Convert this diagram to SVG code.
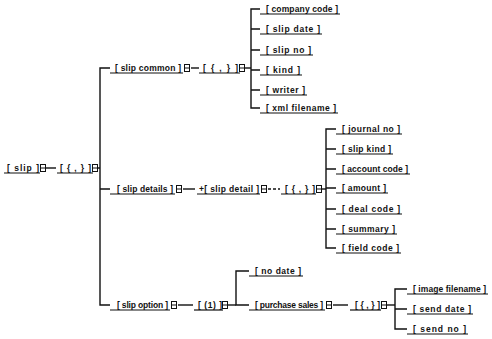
<svg xmlns="http://www.w3.org/2000/svg" width="492" height="339" viewBox="0 0 492 339">
<defs>
<style>
.t{font-family:"Liberation Sans",Arial,sans-serif;font-size:8.5px;font-weight:bold;fill:#111}
.u{stroke:#111;stroke-width:1.2;fill:none}
.c{stroke:#111;stroke-width:1.4;fill:none}
.d{stroke-dasharray:3 2}
</style>
<symbol id="bx" viewBox="0 0 6 8" width="6" height="8" overflow="visible">
<rect x="0.5" y="0.5" width="5" height="7" fill="#fff" stroke="#111" stroke-width="1"/>
<line x1="0.5" y1="4" x2="5.5" y2="4" stroke="#111" stroke-width="1"/>
</symbol>
</defs>
<rect width="492" height="339" fill="#fff"/>

<g id="connectors">
<line class="c" x1="46" y1="168" x2="56" y2="168"/>
<line class="c" x1="98" y1="168" x2="100" y2="168"/>
<path class="c" d="M110,68 H100 V305 H110 M100,189 H110"/>
<line class="c" x1="191" y1="68" x2="199" y2="68"/>
<line class="c" x1="245" y1="68" x2="251" y2="68"/>
<path class="c" d="M260,9 H251 V108 H260 M251,29 H260 M251,50 H260 M251,70 H260 M251,90 H260"/>
<line class="c" x1="183" y1="189" x2="195" y2="189"/>
<line class="c d" x1="268" y1="189" x2="280" y2="189"/>
<line class="c" x1="322" y1="189" x2="326" y2="189"/>
<path class="c" d="M336,129 H326 V248 H336 M326,149 H336 M326,169 H336 M326,188 H336 M326,209 H336 M326,229 H336"/>
<line class="c" x1="178" y1="305" x2="193" y2="305"/>
<line class="c" x1="228" y1="305" x2="236" y2="305"/>
<path class="c" d="M249,271 H236 V305 H249"/>
<line class="c" x1="333" y1="305" x2="348" y2="305"/>
<line class="c" x1="387" y1="305" x2="395" y2="305"/>
<path class="c" d="M407,289 H395 V329 H407 M395,309 H407"/>
</g>

<g id="n-slip">
<text class="t" x="7" y="171" textLength="32">[ slip ]</text>
<line class="u" x1="4" y1="173" x2="40" y2="173"/>
<use href="#bx" x="40" y="164"/>
</g>
<g id="n-seq-root">
<text class="t" x="60" y="171" textLength="31">[ { , } ]</text>
<line class="u" x1="57" y1="173" x2="93" y2="173"/>
<use href="#bx" x="92" y="164"/>
</g>

<g id="n-slip-common">
<text class="t" x="115" y="71" textLength="66">[ slip common ]</text>
<line class="u" x1="110" y1="73" x2="183" y2="73"/>
<use href="#bx" x="184" y="64"/>
</g>
<g id="n-seq-common">
<text class="t" x="203" y="71" textLength="35">[ { , } ]</text>
<line class="u" x1="199" y1="73" x2="240" y2="73"/>
<use href="#bx" x="239" y="64"/>
</g>
<g id="n-company-code">
<text class="t" x="266" y="12" textLength="72">[ company code ]</text>
<line class="u" x1="260" y1="14" x2="340" y2="14"/>
</g>
<g id="n-slip-date">
<text class="t" x="266" y="32" textLength="54">[ slip date ]</text>
<line class="u" x1="260" y1="34" x2="322" y2="34"/>
</g>
<g id="n-slip-no">
<text class="t" x="266" y="53" textLength="45">[ slip no ]</text>
<line class="u" x1="260" y1="55" x2="313" y2="55"/>
</g>
<g id="n-kind">
<text class="t" x="266" y="73" textLength="34">[ kind ]</text>
<line class="u" x1="260" y1="75" x2="302" y2="75"/>
</g>
<g id="n-writer">
<text class="t" x="266" y="93" textLength="39">[ writer ]</text>
<line class="u" x1="260" y1="95" x2="307" y2="95"/>
</g>
<g id="n-xml-filename">
<text class="t" x="266" y="111" textLength="70">[ xml filename ]</text>
<line class="u" x1="260" y1="113" x2="338" y2="113"/>
</g>

<g id="n-slip-details">
<text class="t" x="117" y="192" textLength="56">[ slip details ]</text>
<line class="u" x1="110" y1="194" x2="175" y2="194"/>
<use href="#bx" x="176" y="185"/>
</g>
<g id="n-slip-detail">
<text class="t" x="199" y="192" textLength="60">+[ slip detail ]</text>
<line class="u" x1="197" y1="194" x2="260" y2="194"/>
<use href="#bx" x="261" y="185"/>
</g>
<g id="n-seq-detail">
<text class="t" x="285" y="192" textLength="30">[ { , } ]</text>
<line class="u" x1="281" y1="194" x2="316" y2="194"/>
<use href="#bx" x="316" y="185"/>
</g>
<g id="n-journal-no">
<text class="t" x="342" y="132" textLength="58">[ journal no ]</text>
<line class="u" x1="336" y1="134" x2="402" y2="134"/>
</g>
<g id="n-slip-kind">
<text class="t" x="342" y="152" textLength="49">[ slip kind ]</text>
<line class="u" x1="336" y1="154" x2="393" y2="154"/>
</g>
<g id="n-account-code">
<text class="t" x="342" y="172" textLength="66">[ account code ]</text>
<line class="u" x1="336" y1="174" x2="410" y2="174"/>
</g>
<g id="n-amount">
<text class="t" x="342" y="191" textLength="44">[ amount ]</text>
<line class="u" x1="336" y1="193" x2="388" y2="193"/>
</g>
<g id="n-deal-code">
<text class="t" x="342" y="212" textLength="58">[ deal code ]</text>
<line class="u" x1="336" y1="214" x2="402" y2="214"/>
</g>
<g id="n-summary">
<text class="t" x="342" y="232" textLength="53">[ summary ]</text>
<line class="u" x1="336" y1="234" x2="397" y2="234"/>
</g>
<g id="n-field-code">
<text class="t" x="342" y="251" textLength="57">[ field code ]</text>
<line class="u" x1="336" y1="253" x2="401" y2="253"/>
</g>

<g id="n-slip-option">
<text class="t" x="117" y="308" textLength="51">[ slip option ]</text>
<line class="u" x1="110" y1="310" x2="170" y2="310"/>
<use href="#bx" x="171" y="301"/>
</g>
<g id="n-choice">
<text class="t" x="198" y="308" textLength="24">[ (1) ]</text>
<line class="u" x1="194" y1="310" x2="223" y2="310"/>
<use href="#bx" x="222" y="301"/>
</g>
<g id="n-no-date">
<text class="t" x="255" y="274" textLength="46">[ no date ]</text>
<line class="u" x1="249" y1="276" x2="303" y2="276"/>
</g>
<g id="n-purchase-sales">
<text class="t" x="255" y="308" textLength="68">[ purchase sales ]</text>
<line class="u" x1="249" y1="310" x2="325" y2="310"/>
<use href="#bx" x="326" y="301"/>
</g>
<g id="n-seq-purchase">
<text class="t" x="355" y="308" textLength="25">[ { , } ]</text>
<line class="u" x1="350" y1="310" x2="381" y2="310"/>
<use href="#bx" x="381" y="301"/>
</g>
<g id="n-image-filename">
<text class="t" x="413" y="292" textLength="73">[ image filename ]</text>
<line class="u" x1="407" y1="294" x2="488" y2="294"/>
</g>
<g id="n-send-date">
<text class="t" x="413" y="312" textLength="58">[ send date ]</text>
<line class="u" x1="407" y1="314" x2="473" y2="314"/>
</g>
<g id="n-send-no">
<text class="t" x="413" y="332" textLength="53">[ send no ]</text>
<line class="u" x1="407" y1="334" x2="468" y2="334"/>
</g>
</svg>
